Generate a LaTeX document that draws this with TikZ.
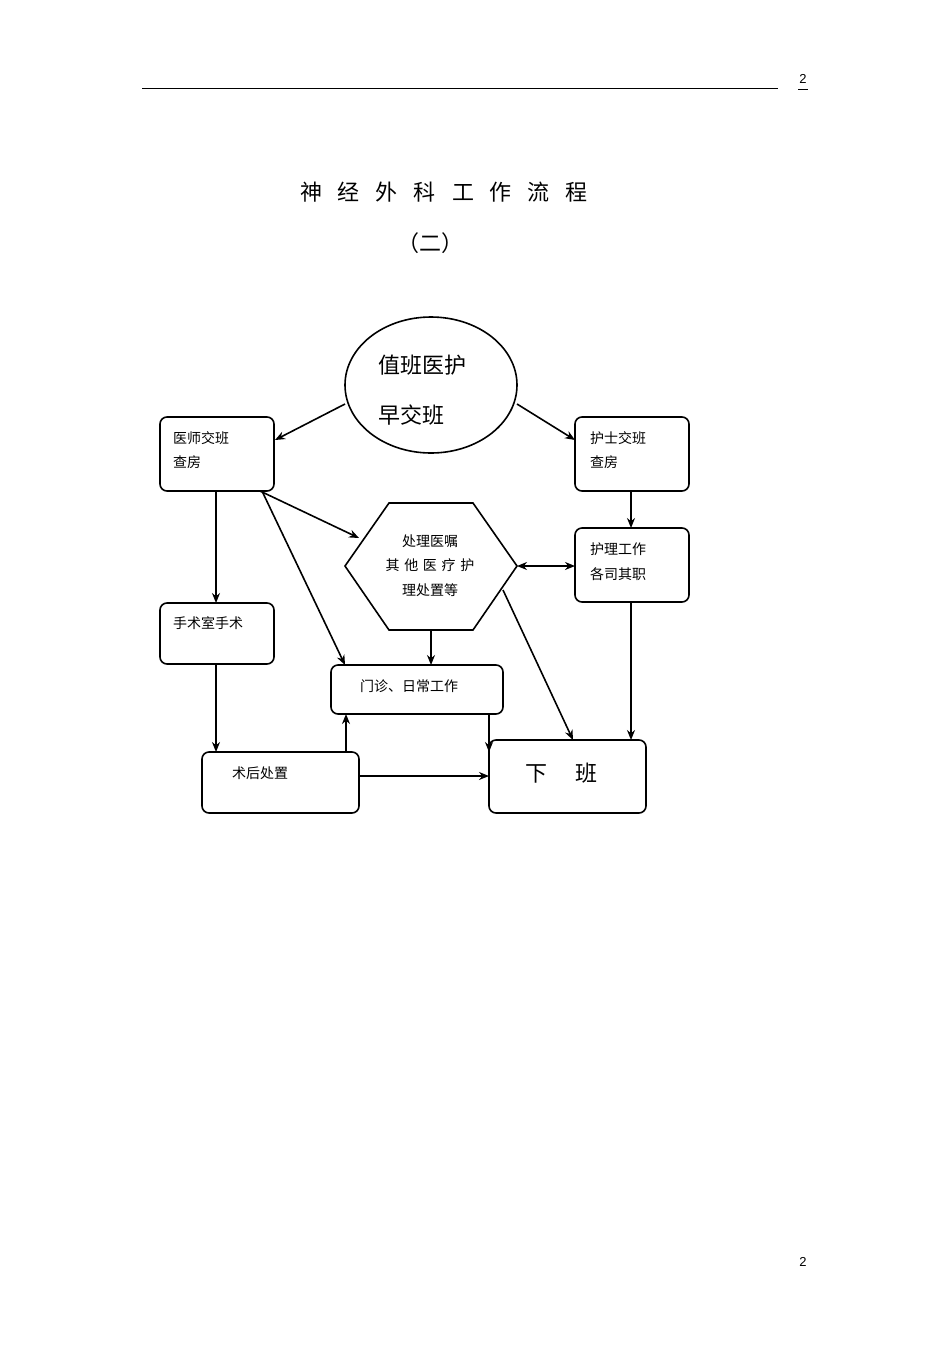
\documentclass[tikz,border=0pt]{standalone}
\usepackage{fontspec}
\setmainfont{Liberation Sans}
\newfontfamily\cjk{Noto Sans CJK SC}
\usetikzlibrary{shapes.geometric,arrows.meta}
\begin{document}
\begin{tikzpicture}[x=1pt,y=-1pt,
  ln/.style={line width=1.6pt},
  box/.style={draw,ln,rounded corners=7pt},
  lab/.style={anchor=west,font=\cjk\fontsize{14}{16}\selectfont,inner sep=0},
  arr/.style={ln,-{Stealth[length=10pt,width=8pt]}}]
\useasboundingbox (0,0) rectangle (950,1345);
% header/footer
\draw (142,88) -- (778,88);
\node[font=\fontsize{13}{15}\selectfont] (pg) at (803,79) {2};
\draw (798,89) -- (808,89);
\node[font=\fontsize{13}{15}\selectfont] (pg2) at (803,1262) {2};
\node[font=\cjk\fontsize{22}{24}\selectfont] (title) at (444,192) {神\hspace{16pt}经\hspace{16pt}外\hspace{16pt}科\hspace{16pt}工\hspace{16pt}作\hspace{16pt}流\hspace{16pt}程};
\node[font=\cjk\fontsize{22}{24}\selectfont] (sub) at (430,243) {（二）};
% nodes
\node[draw,ln,ellipse,minimum width=172pt,minimum height=136pt] (e) at (431,385) {};
\node[lab,font=\cjk\fontsize{22}{24}\selectfont] (e1) at (378,365) {值班医护};
\node[lab,font=\cjk\fontsize{22}{24}\selectfont] (e2) at (378,415) {早交班};
\draw[box] (160,417) rectangle (274,491);
\node[lab] (d1) at (173,438) {医师交班};
\node[lab] (d2) at (173,462) {查房};
\draw[box] (575,417) rectangle (689,491);
\node[lab] (n1) at (590,438) {护士交班};
\node[lab] (n2) at (590,462) {查房};
\draw[ln] (345,566) -- (389,503) -- (473,503) -- (517,566) -- (473,630) -- (389,630) -- cycle;
\node[font=\cjk\fontsize{14}{16}\selectfont] (h1) at (430,541) {处理医嘱};
\node[font=\cjk\fontsize{14}{16}\selectfont] (h2) at (430,565) {其\,\,他\,\,医\,\,疗\,\,护};
\node[font=\cjk\fontsize{14}{16}\selectfont] (h3) at (430,590) {理处置等};
\draw[box] (575,528) rectangle (689,602);
\node[lab] (w1) at (590,549) {护理工作};
\node[lab] (w2) at (590,574) {各司其职};
\draw[box] (160,603) rectangle (274,664);
\node[lab] (s1) at (173,623) {手术室手术};
\draw[box] (331,665) rectangle (503,714);
\node[lab] (m1) at (360,686) {门诊、日常工作};
\draw[box] (202,752) rectangle (359,813);
\node[lab] (p1) at (232,773) {术后处置};
\draw[box] (489,740) rectangle (646,813);
\node[lab,font=\cjk\fontsize{22}{24}\selectfont] (x1) at (525,773) {下\hspace{28pt}班};
% named anchors
\coordinate (eL) at (345,404); \coordinate (eR) at (517,404);
\coordinate (dR) at (275,440); \coordinate (nL) at (575,440);
\coordinate (nB) at (631,491); \coordinate (wT) at (631,528);
\coordinate (hR) at (517,566); \coordinate (wL) at (575,566);
\coordinate (dB1) at (260,491); \coordinate (hUL) at (359,538);
\coordinate (dB2) at (262,491); \coordinate (mT) at (345,665);
\coordinate (dB3) at (216,491); \coordinate (sT) at (216,603);
\coordinate (hB) at (431,630); \coordinate (mT2) at (431,665);
\coordinate (hLR) at (503,590); \coordinate (xT) at (573,740);
\coordinate (wB) at (631,602); \coordinate (xT2) at (631,740);
\coordinate (sB) at (216,664); \coordinate (pT) at (216,752);
\coordinate (pT2) at (346,752); \coordinate (mB) at (346,714);
\coordinate (pR) at (359,776); \coordinate (xL) at (489,776);
\coordinate (mB2) at (489,714); \coordinate (xTL) at (489,752);
% arrows
\draw[arr] (eL) -- (dR);
\draw[arr] (eR) -- (nL);
\draw[arr] (nB) -- (wT);
\draw[ln,{Stealth[length=10pt,width=8pt]}-{Stealth[length=10pt,width=8pt]}] (hR) -- (wL);
\draw[arr] (dB1) -- (hUL);
\draw[arr] (dB2) -- (mT);
\draw[arr] (dB3) -- (sT);
\draw[arr] (hB) -- (mT2);
\draw[arr] (hLR) -- (xT);
\draw[arr] (wB) -- (xT2);
\draw[arr] (sB) -- (pT);
\draw[arr] (pT2) -- (mB);
\draw[arr] (pR) -- (xL);
\draw[arr] (mB2) -- (xTL);
\end{tikzpicture}
\end{document}
